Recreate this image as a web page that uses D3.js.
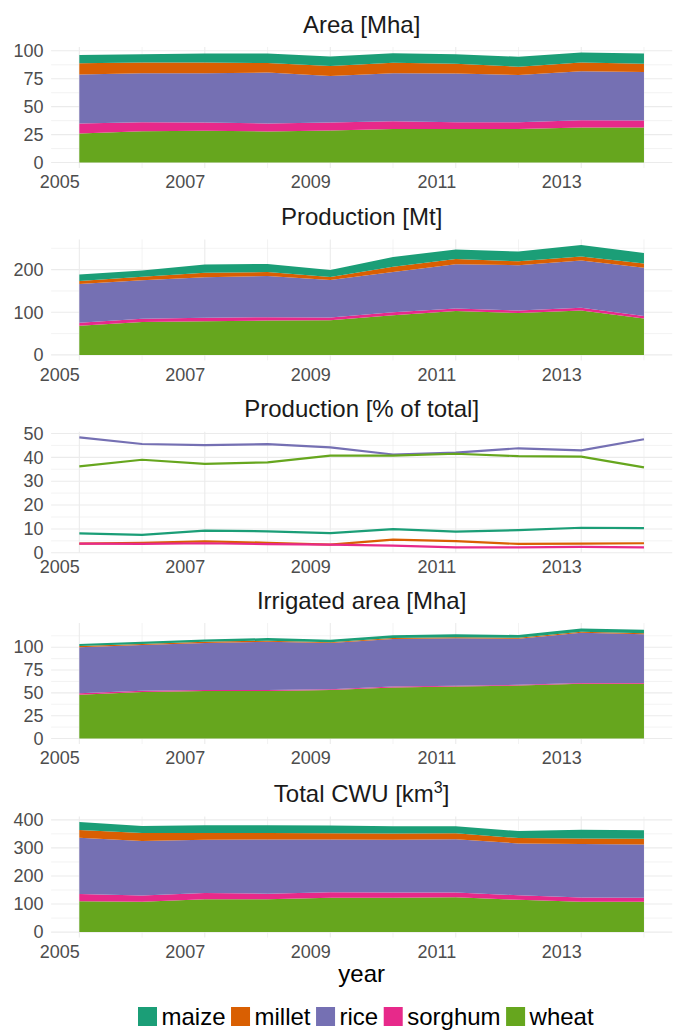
<!DOCTYPE html>
<html><head><meta charset="utf-8">
<script src="https://cdn.jsdelivr.net/npm/d3@7"></script>
<style>
body{margin:0;background:#fff;}
text{font-family:"Liberation Sans",Arial,Helvetica,sans-serif;}
</style>
</head><body>
<svg id="chart" width="679" height="1030"></svg>
<script>
// ---------- data ----------
const years = [2005, 2006, 2007, 2008, 2009, 2010, 2011, 2012, 2013, 2014];
const crops = ["maize", "millet", "rice", "sorghum", "wheat"];
const cropColors = ["#1B9E77", "#D95F02", "#7570B3", "#E7298A", "#66A61E"];
const stackOrder = ["wheat", "sorghum", "rice", "millet", "maize"];
const xTickLabels = [2005, 2007, 2009, 2011, 2013];

// Area [Mha]
const areaMaize   = [7.4, 7.4, 8.0, 8.5, 8.6, 8.6, 8.5, 8.9, 8.9, 9.1];
const areaMillet  = [10.1, 9.7, 9.7, 8.6, 8.9, 9.4, 8.9, 7.4, 7.9, 7.4];
const areaRice    = [43.8, 43.9, 44.1, 45.6, 41.7, 42.9, 43.6, 42.4, 43.8, 43.5];
const areaSorghum = [8.9, 8.0, 7.4, 7.1, 7.1, 7.1, 6.1, 6.1, 6.5, 6.2];
const areaWheat   = [26.0, 28.0, 28.4, 27.8, 28.7, 29.9, 29.9, 29.9, 31.4, 31.4];
const areaTicks   = [0, 25, 50, 75, 100];

// Production [Mt]
const prodMaize   = [15.2, 14.9, 19.6, 19.2, 16.3, 22.7, 22.1, 23.1, 27.0, 24.6];
const prodMillet  = [7.1, 8.3, 10.1, 8.9, 6.8, 12.6, 12.2, 9.0, 9.8, 9.6];
const prodRice    = [91.0, 90.3, 95.2, 96.9, 88.0, 94.3, 104.2, 106.4, 110.7, 113.7];
const prodSorghum = [7.1, 7.3, 8.4, 7.7, 6.8, 6.9, 5.7, 5.6, 6.5, 5.5];
const prodWheat   = [68.1, 77.2, 78.7, 80.7, 81.0, 93.2, 102.9, 98.4, 104.0, 85.5];
const prodTicks   = [0, 100, 200];

// Production [% of total]
const shareMaize   = [8.1, 7.5, 9.3, 9.0, 8.2, 9.9, 8.9, 9.5, 10.5, 10.3];
const shareMillet  = [3.8, 4.2, 4.8, 4.2, 3.4, 5.5, 4.9, 3.7, 3.8, 4.0];
const shareRice    = [48.4, 45.6, 45.1, 45.5, 44.2, 41.2, 42.0, 43.8, 42.9, 47.6];
const shareSorghum = [3.8, 3.7, 4.0, 3.6, 3.4, 3.0, 2.3, 2.3, 2.5, 2.3];
const shareWheat   = [36.2, 39.0, 37.3, 37.9, 40.7, 40.7, 41.5, 40.5, 40.3, 35.8];
const shareTicks   = [0, 10, 20, 30, 40, 50];

// Irrigated area [Mha]
const irrMaize   = [2.3, 2.5, 2.6, 2.8, 2.7, 3.0, 3.2, 3.1, 3.6, 3.8];
const irrMillet  = [1.2, 1.2, 1.2, 1.1, 1.0, 1.2, 1.1, 1.0, 1.1, 1.0];
const irrRice    = [50.5, 50.0, 51.5, 53.0, 50.5, 52.0, 52.0, 50.5, 55.0, 53.5];
const irrSorghum = [1.5, 1.3, 1.2, 1.1, 1.0, 1.0, 0.9, 0.8, 0.8, 0.8];
const irrWheat   = [48.0, 51.0, 52.0, 52.0, 53.0, 56.0, 57.0, 58.0, 60.0, 60.0];
const irrTicks   = [0, 25, 50, 75, 100];

// Total CWU [km3]
const cwuMaize   = [28, 25, 28, 28, 28, 26, 25, 25, 31, 30];
const cwuMillet  = [28, 28, 24, 23, 22, 22, 21, 19, 20, 21];
const cwuRice    = [200, 195, 190, 193, 188, 188, 190, 185, 191, 190];
const cwuSorghum = [26, 22, 22, 20, 20, 19, 17, 16, 15, 14];
const cwuWheat   = [110, 108, 117, 117, 122, 122, 124, 115, 108, 108];
const cwuTicks   = [0, 100, 200, 300, 400];

// ---------- build panels ----------
function rowsOf(series) {
  return years.map((yr, i) => {
    const r = {year: yr};
    crops.forEach((c, k) => r[c] = series[k][i]);
    return r;
  });
}
const panels = [
  {title: "Area [Mha]", kind: "stack", rows: rowsOf([areaMaize, areaMillet, areaRice, areaSorghum, areaWheat]), ticks: areaTicks},
  {title: "Production [Mt]", kind: "stack", rows: rowsOf([prodMaize, prodMillet, prodRice, prodSorghum, prodWheat]), ticks: prodTicks},
  {title: "Production [% of total]", kind: "line", rows: rowsOf([shareMaize, shareMillet, shareRice, shareSorghum, shareWheat]), ticks: shareTicks},
  {title: "Irrigated area [Mha]", kind: "stack", rows: rowsOf([irrMaize, irrMillet, irrRice, irrSorghum, irrWheat]), ticks: irrTicks},
  {title: "Total CWU [km", sup: "3", tail: "]", kind: "stack", rows: rowsOf([cwuMaize, cwuMillet, cwuRice, cwuSorghum, cwuWheat]), ticks: cwuTicks}
];

// ---------- layout ----------
const W = 679, H = 1030;
const left = 51.1, right = 672.2;
const panelH = 121;
const bottoms = [168, 360.4, 552.8, 744, 937.6];
const color = d3.scaleOrdinal().domain(crops).range(cropColors);
const svg = d3.select("#chart");

const xExt = d3.extent(years);
const xPad = (xExt[1] - xExt[0]) * 0.05;
const x = d3.scaleLinear().domain([xExt[0] - xPad, xExt[1] + xPad]).range([left, right]);

const gridCol = "#EBEBEB";
const tickCol = "#4D4D4D";

panels.forEach((p, i) => {
  const bottom = bottoms[i], top = bottom - panelH;
  let lo, hi, stacked = null;
  if (p.kind === "stack") {
    stacked = d3.stack().keys(stackOrder)(p.rows);
    const mx = d3.max(stacked[stacked.length - 1], d => d[1]);
    lo = -0.05 * mx; hi = mx * 1.05;
  } else {
    const vals = p.rows.flatMap(r => crops.map(c => r[c]));
    const mn = d3.min(vals), mx = d3.max(vals);
    lo = mn - 0.05 * (mx - mn); hi = mx + 0.05 * (mx - mn);
  }
  const y = d3.scaleLinear().domain([lo, hi]).range([bottom, top]);
  const g = svg.append("g");

  // grid: minor horizontal
  const step = p.ticks[1] - p.ticks[0];
  const minorY = d3.range(p.ticks[0] - step / 2, p.ticks[p.ticks.length - 1] + step, step).filter(v => v >= lo && v <= hi);
  g.selectAll(".hmin").data(minorY).join("line")
    .attr("x1", left).attr("x2", right).attr("y1", d => y(d)).attr("y2", d => y(d))
    .attr("stroke", gridCol).attr("stroke-width", 0.6);
  // grid: vertical
  g.selectAll(".v").data(years).join("line")
    .attr("x1", d => x(d)).attr("x2", d => x(d)).attr("y1", top).attr("y2", bottom)
    .attr("stroke", gridCol).attr("stroke-width", d => xTickLabels.includes(d) ? 1.1 : 0.6);
  // grid: major horizontal
  g.selectAll(".hmaj").data(p.ticks.filter(v => v >= lo && v <= hi)).join("line")
    .attr("x1", left).attr("x2", right).attr("y1", d => y(d)).attr("y2", d => y(d))
    .attr("stroke", gridCol).attr("stroke-width", 1.1);

  if (p.kind === "stack") {
    const area = d3.area().x(d => x(d.data.year)).y0(d => y(d[0])).y1(d => y(d[1]));
    g.selectAll(".layer").data(stacked).join("path")
      .attr("d", area).attr("fill", d => color(d.key));
  } else {
    crops.forEach(c => {
      const line = d3.line().x(d => x(d.year)).y(d => y(d[c]));
      g.append("path").datum(p.rows).attr("d", line)
        .attr("fill", "none").attr("stroke", color(c)).attr("stroke-width", 2.2)
        .attr("stroke-linejoin", "round");
    });
  }

  // axes (labels only)
  const ya = g.append("g").attr("transform", `translate(${left},0)`)
    .call(d3.axisLeft(y).tickValues(p.ticks).tickSize(0).tickPadding(7.6));
  ya.select(".domain").remove();
  ya.selectAll("text").attr("font-size", 18).attr("fill", tickCol)
    .attr("font-family", '"Liberation Sans", Arial, sans-serif');

  const xa = g.append("g").attr("transform", `translate(0,${bottom})`)
    .call(d3.axisBottom(x).tickValues(xTickLabels).tickFormat(d3.format("d")).tickSize(0).tickPadding(7.7));
  xa.select(".domain").remove();
  xa.selectAll("text").attr("font-size", 18).attr("fill", tickCol).attr("text-anchor", "end")
    .attr("font-family", '"Liberation Sans", Arial, sans-serif');

  // title
  const t = svg.append("text").attr("x", (left + right) / 2).attr("y", top - 14.5)
    .attr("text-anchor", "middle").attr("font-size", 24).attr("fill", "#1A1A1A").text(p.title);
  if (p.sup) {
    t.append("tspan").attr("dy", -9).attr("font-size", 16).text(p.sup);
    t.append("tspan").attr("dy", 9).attr("font-size", 24).text(p.tail);
  }
});

// x axis title
svg.append("text").attr("x", (left + right) / 2).attr("y", 982)
  .attr("text-anchor", "middle").attr("font-size", 24).attr("fill", "#000").text("year");

// legend
const leg = svg.append("g");
let lx = 138;
crops.forEach(c => {
  leg.append("rect").attr("x", lx).attr("y", 1007).attr("width", 19).attr("height", 19).attr("fill", color(c));
  const tx = leg.append("text").attr("x", lx + 23.5).attr("y", 1025).attr("font-size", 24).attr("fill", "#000").text(c);
  lx = lx + 23.5 + tx.node().getComputedTextLength() + 5.5;
});
</script>
</body></html>
